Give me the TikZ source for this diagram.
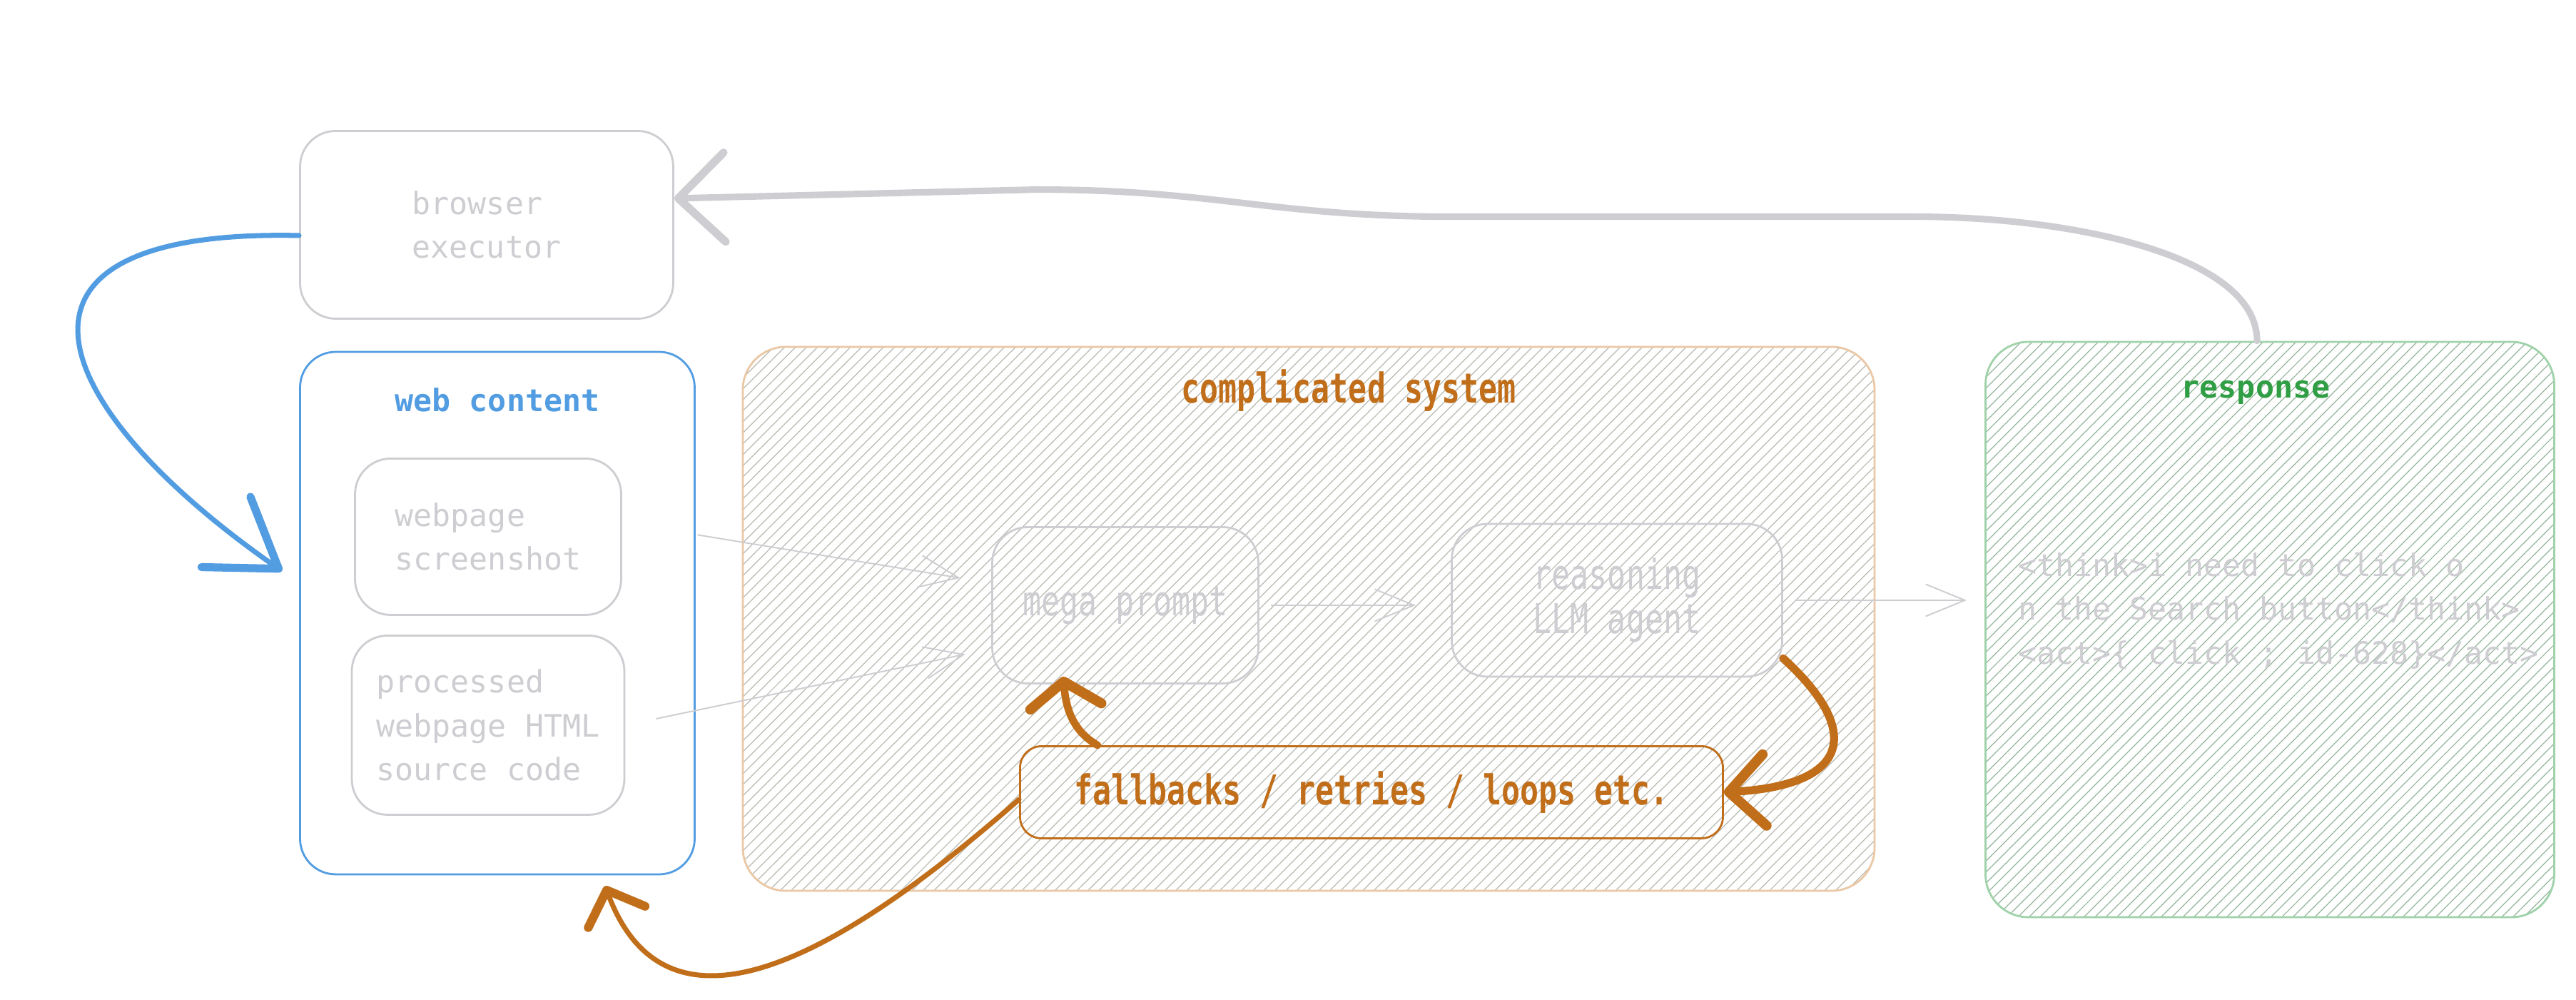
\documentclass[tikz,border=0pt]{standalone}
\usepackage{fontspec}
\setmonofont{DejaVu Sans Mono}
\newfontfamily\narrowmono[FakeStretch=0.75]{DejaVu Sans Mono}
\usepackage{tikz}
\usetikzlibrary{positioning,arrows.meta,patterns.meta}
\usepackage{xcolor}

\definecolor{softgray}{RGB}{206,206,210}
\definecolor{hatchgray}{RGB}{186,186,178}
\definecolor{hatchgreen}{RGB}{150,182,156}
\definecolor{webblue}{RGB}{82,156,226}
\definecolor{rust}{RGB}{193,110,26}
\definecolor{peach}{RGB}{235,200,165}
\definecolor{mint}{RGB}{160,210,170}
\definecolor{leaf}{RGB}{47,158,68}

\tikzset{
  box/.style={draw=softgray,line width=0.8pt,rounded corners=5mm,text=softgray,align=left,
    font=\ttfamily\fontsize{12.3}{17.5}\selectfont},
  narrowtext/.style={font=\narrowmono\fontsize{16.4}{17.5}\selectfont},
  narrowbold/.style={font=\narrowmono\bfseries\fontsize{16.4}{17.5}\selectfont},
  boxtitle/.style={font=\ttfamily\bfseries\fontsize{12.3}{17.5}\selectfont},
  hatched/.style={pattern={Lines[angle=45,distance=3.1pt,line width=0.35pt]},pattern color=#1},
  thinarrow/.style={softgray,line width=0.55pt,-{Straight Barb[length=5.5mm,width=4.5mm]}},
  sketch/.style={line width=#1,line cap=round,line join=round},
}

\begin{document}
\begin{tikzpicture}
\path[fill=white] (0,0) rectangle (36.1,14.01);
\useasboundingbox (0,0) rectangle (36.1,14.01);

\node[box,minimum width=5.23cm,minimum height=2.63cm] (brow) at (6.82,10.86) {browser\\executor};

\node[box,draw=webblue,minimum width=5.53cm,minimum height=7.32cm] (web) at (6.97,5.42) {};
\node[boxtitle,text=webblue] (webtitle) at ([yshift=-6.9mm]web.north) {web content};
\node[box,minimum width=3.73cm,minimum height=2.19cm] (shot) at (6.84,6.49) {webpage\\screenshot};
\node[box,minimum width=3.82cm,minimum height=2.51cm] (proc) at (6.84,3.85) {processed\\webpage HTML\\source code};

\node[box,draw=peach,hatched=hatchgray,rounded corners=6mm,minimum width=15.86cm,minimum height=7.62cm] (sys) at (18.34,5.34) {};
\node[narrowbold,text=rust] (systitle) at ([xshift=5.6mm,yshift=-6.2mm]sys.north) {complicated system};
\node[box,narrowtext,minimum width=3.73cm,minimum height=2.19cm] (mega) at (15.77,5.53) {mega prompt};
\node[box,narrowtext,minimum width=4.63cm,minimum height=2.14cm] (reason) at (22.66,5.60) {reasoning\\LLM agent};
\node[box,narrowbold,draw=rust,text=rust,rounded corners=3mm,minimum width=9.85cm,minimum height=1.29cm] (fall) at (19.22,2.91) {fallbacks / retries / loops etc.};

\node[box,draw=mint,hatched=hatchgreen,rounded corners=6mm,minimum width=7.97cm,minimum height=8.06cm] (resp) at (31.81,5.19) {};
\node[boxtitle,text=leaf] (resptitle) at ([xshift=-2mm,yshift=-7.2mm]resp.north) {response};
\node[box,draw=none] (resptext) at ([xshift=1.2mm,yshift=2.6mm]resp.center) {<think>i need to click o\\n the Search button</think>\\<act>\{ click ; id-628\}</act>};

\draw[thinarrow,shorten <=10.7mm,shorten >=4.4mm] ([yshift=2mm]shot.east) -- ([yshift=3.1mm]mega.west);
\draw[thinarrow,shorten <=4.4mm,shorten >=3.7mm] (proc.east) -- ([yshift=-6.1mm]mega.west);
\draw[thinarrow,shorten <=1.6mm,shorten >=4.9mm] (mega.east) -- (mega.east -| reason.west);
\draw[thinarrow,shorten <=1.8mm,shorten >=2.5mm] (reason.east) -- (reason.east -| resp.west);

\draw[softgray,sketch=2.6pt,-{Straight Barb[length=6.5mm,width=12.5mm,line width=3.2pt,round]}]
  ([xshift=-1.8mm]resp.north) .. controls +(0,1.2) and +(2.2,0) .. ++(-4.8,1.74)
  -- ++(-6.5,0) .. controls +(-2.5,0) and +(2.5,0) .. ++(-5.8,0.38) -- ([yshift=3.7mm]brow.east);

\draw[webblue,sketch=2pt,-{Straight Barb[length=9mm,width=12mm,line width=3.2pt,round]}]
  ([yshift=-1.5mm]brow.west) .. controls +(-4.6,0.1) and +(-3.3,2.3) .. ([xshift=-2.4mm,yshift=5.9mm]web.west);

\draw[rust,sketch=3.2pt,-{Straight Barb[length=5mm,width=10mm,line width=4pt,round]}]
  ([yshift=2.7mm]reason.south east) .. controls +(1.1,-1.0) and +(1.8,0.1) .. (fall.east);
\draw[rust,sketch=3pt,-{Straight Barb[length=3.5mm,width=10mm,line width=4pt,round]}]
  ([xshift=1.1cm]fall.north west) to[out=150,in=-85] ([xshift=-8.7mm,yshift=1.1mm]mega.south);
\draw[rust,sketch=2pt,-{Straight Barb[length=4mm,width=8.5mm,line width=3.5pt,round]}]
  ([yshift=-1mm]fall.west) .. controls +(-2.4,-2.1) and +(0.9,-2.4) .. ([xshift=1.51cm,yshift=-1.5mm]web.south);
\end{tikzpicture}
\end{document}
